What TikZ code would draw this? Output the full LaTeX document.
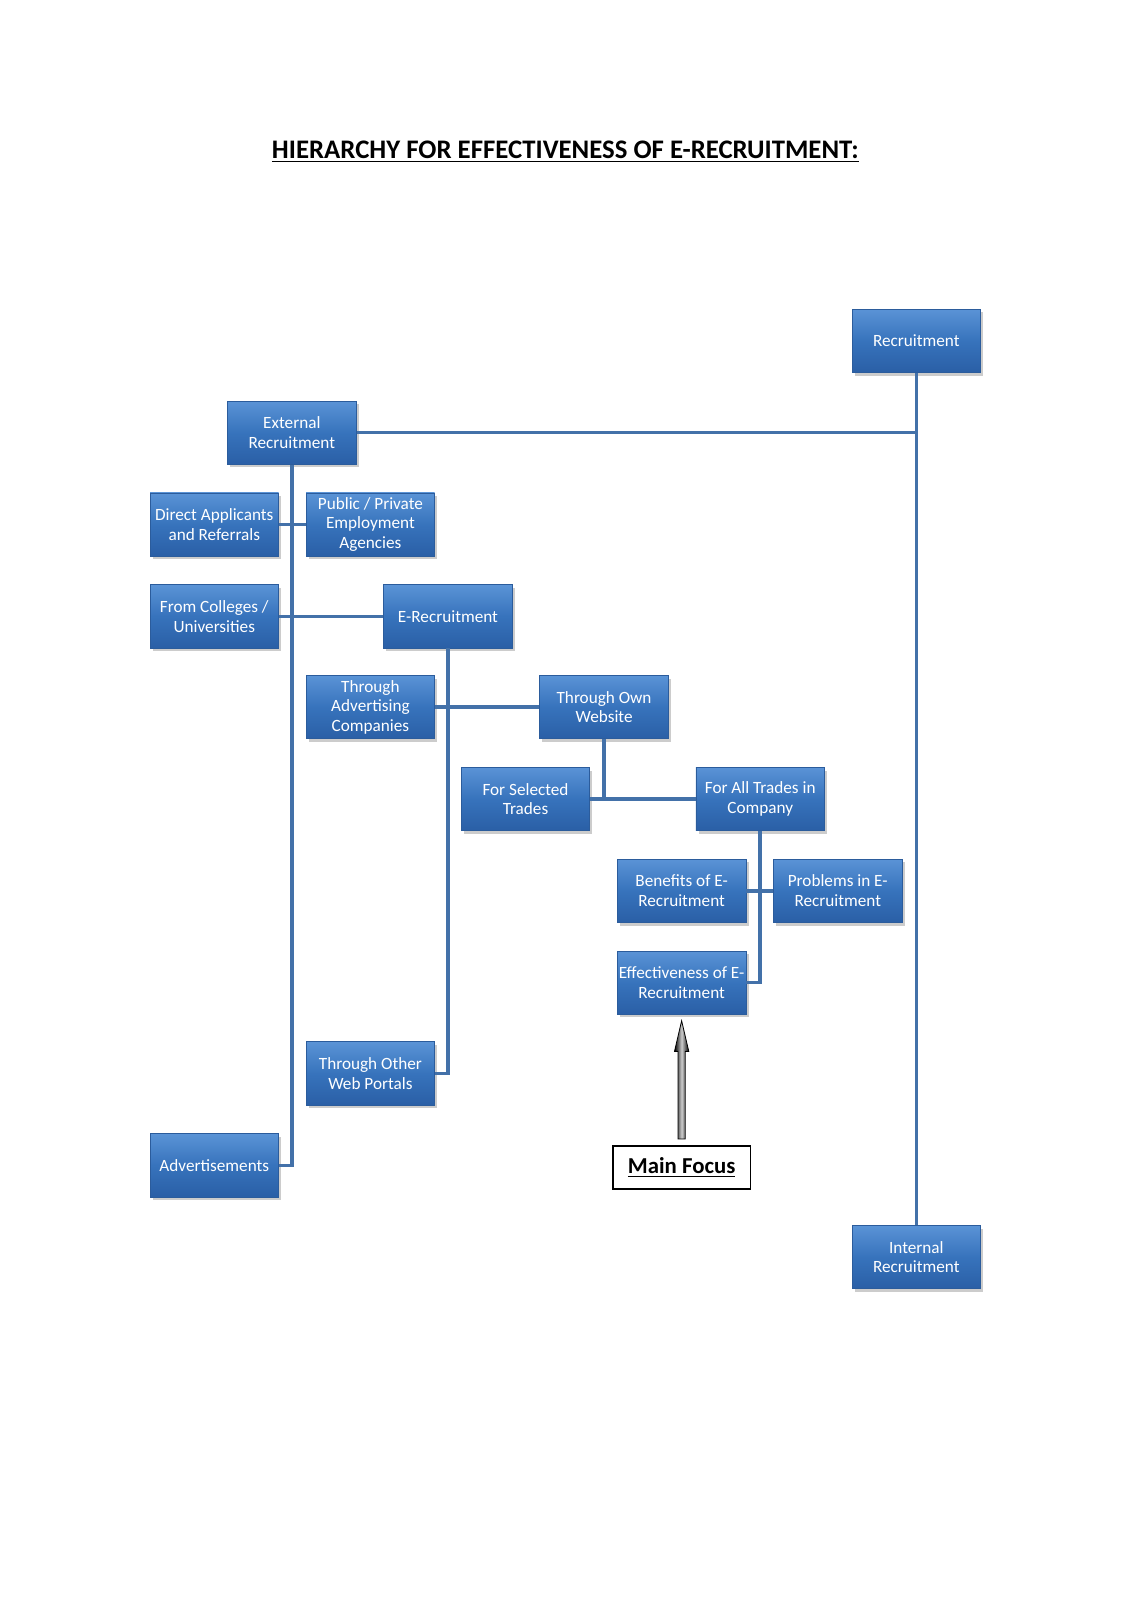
\documentclass[tikz,border=0pt]{standalone}
\usepackage{fontspec}
\setmainfont{Carlito}
\usetikzlibrary{shadows,calc}
\definecolor{boxtop}{HTML}{5A93D6}
\definecolor{boxmid}{HTML}{3773BC}
\definecolor{boxbot}{HTML}{2A5FA6}
\definecolor{boxedge}{HTML}{2B5C9C}
\definecolor{linec}{HTML}{4371A9}
\begin{document}
\begin{tikzpicture}[x=0.5104pt,y=-0.5104pt,
  bx/.style={rectangle, minimum width=64.3pt, minimum height=31.6pt, inner sep=0.5pt,
    top color=boxtop, bottom color=boxbot, middle color=boxmid, draw=boxedge, line width=0.4pt,
    text=white, font=\fontsize{8.6}{9.8}\selectfont, align=center,
    drop shadow={shadow xshift=1.3pt, shadow yshift=-1.6pt, opacity=0.4}},
  ln/.style={draw=linec, line width=1.8pt}]
\useasboundingbox (0,0) rectangle (1108,1568);
\node[font=\fontsize{13.4}{15}\selectfont\bfseries] (title) at (554,149) {\underline{HIERARCHY FOR EFFECTIVENESS OF E-RECRUITMENT:}};

\coordinate (recC) at (898,334);
\coordinate (extC) at (286,424);
\coordinate (intC) at (898,1232);
\coordinate (advC) at (210,1142);
\coordinate (dirC) at (210,514);
\coordinate (pubC) at (363,514);
\coordinate (colC) at (210,604);
\coordinate (ereC) at (439,604);
\coordinate (adcC) at (363,693);
\coordinate (ownC) at (592,693);
\coordinate (selC) at (515,783);
\coordinate (allC) at (745,783);
\coordinate (benC) at (668,873);
\coordinate (proC) at (821,873);
\coordinate (effC) at (668,963);
\coordinate (webC) at (363,1052);

\node[bx] (rec) at (recC) {Recruitment};
\node[bx] (ext) at (extC) {External\\Recruitment};
\node[bx] (int) at (intC) {Internal\\Recruitment};
\node[bx] (dir) at (dirC) {Direct Applicants\\and Referrals};
\node[bx] (pub) at (pubC) {Public / Private\\Employment\\Agencies};
\node[bx] (col) at (colC) {From Colleges /\\Universities};
\node[bx] (ere) at (ereC) {E-Recruitment};
\node[bx] (adc) at (adcC) {Through\\Advertising\\Companies};
\node[bx] (own) at (ownC) {Through Own\\Website};
\node[bx] (sel) at (selC) {For Selected\\Trades};
\node[bx] (all) at (allC) {For All Trades in\\Company};
\node[bx] (ben) at (benC) {Benefits of E-\\Recruitment};
\node[bx] (pro) at (proC) {Problems in E-\\Recruitment};
\node[bx] (eff) at (effC) {Effectiveness of E-\\Recruitment};
\node[bx] (web) at (webC) {Through Other\\Web Portals};
\node[bx] (adv) at (advC) {Advertisements};

\node[draw=black, line width=0.9pt, minimum width=68.9pt, minimum height=21.4pt, inner sep=1pt,
  font=\fontsize{11.4}{13}\selectfont\bfseries] (mf) at (668,1144) {\underline{Main Focus}};

% connectors
\draw[ln] (rec.south) -- (int.north);
\draw[ln] (ext.east) -- (ext.east -| rec.south);
\draw[ln] (ext.south) |- (adv.east);
\draw[ln] (dir.east) -- (pub.west);
\draw[ln] (col.east) -- (ere.west);
\draw[ln] (ere.south) |- (web.east);
\draw[ln] (adc.east) -- (own.west);
\draw[ln] (own.south) -- (own.south |- sel.east);
\draw[ln] (sel.east) -- (all.west);
\draw[ln] (all.south) |- (eff.east);
\draw[ln] (ben.east) -- (pro.west);

% arrow
\coordinate (at) at ($(eff.south)+(0,6)$);
\coordinate (ab) at ($(mf.north)+(0,-6)$);
\path[left color=black, right color=black, middle color=gray!40, draw=black, line width=0.4pt]
  ($(ab)+(-3.5,0)$) -- ($(at)+(-3.5,30)$) -- ($(at)+(-7,30)$) -- (at) -- ($(at)+(7,30)$) -- ($(at)+(3.5,30)$) -- ($(ab)+(3.5,0)$) -- cycle;
\end{tikzpicture}
\end{document}
